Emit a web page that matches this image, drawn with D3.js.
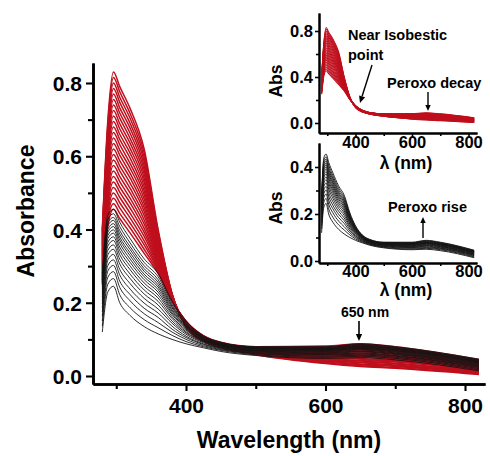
<!DOCTYPE html>
<html>
<head>
<meta charset="utf-8">
<script src="https://cdn.jsdelivr.net/npm/d3@7"></script>
<style>
  html, body { margin: 0; padding: 0; background: #fff; }
  svg { display: block; font-family: "Liberation Sans", Arial, Helvetica, sans-serif; font-weight: bold; }
</style>
</head>
<body>
<svg id="chart" width="490" height="456"></svg>
<script>
// Sampling wavelengths (nm) shared by every spectrum
const wavelengths = [280, 288, 296, 305, 320, 340, 360, 380, 400, 425, 450, 500, 600, 650, 700, 820];

// Peroxo decay series (red), absorbance at each wavelength
const decaySpectra = [
  [0.250,0.410,0.455,0.430,0.390,0.335,0.280,0.205,0.150,0.110,0.092,0.080,0.082,0.088,0.080,0.045],
  [0.256,0.422,0.470,0.444,0.404,0.346,0.285,0.206,0.149,0.109,0.091,0.079,0.080,0.086,0.078,0.043],
  [0.262,0.433,0.485,0.459,0.417,0.358,0.290,0.207,0.149,0.109,0.091,0.078,0.078,0.083,0.075,0.042],
  [0.268,0.445,0.500,0.473,0.431,0.369,0.294,0.207,0.148,0.108,0.090,0.077,0.076,0.081,0.073,0.040],
  [0.274,0.456,0.515,0.488,0.444,0.381,0.299,0.208,0.148,0.108,0.090,0.076,0.074,0.078,0.071,0.038],
  [0.280,0.468,0.530,0.502,0.458,0.392,0.304,0.209,0.147,0.107,0.089,0.076,0.072,0.076,0.068,0.037],
  [0.286,0.480,0.545,0.516,0.472,0.403,0.309,0.210,0.146,0.106,0.089,0.075,0.070,0.073,0.066,0.035],
  [0.292,0.491,0.560,0.531,0.485,0.415,0.314,0.211,0.146,0.106,0.088,0.074,0.069,0.071,0.063,0.034],
  [0.298,0.503,0.575,0.545,0.499,0.426,0.318,0.211,0.145,0.105,0.088,0.073,0.067,0.068,0.061,0.032],
  [0.304,0.514,0.590,0.560,0.512,0.438,0.323,0.212,0.145,0.105,0.087,0.072,0.065,0.066,0.059,0.030],
  [0.310,0.526,0.605,0.574,0.526,0.449,0.328,0.213,0.144,0.104,0.086,0.071,0.063,0.063,0.056,0.029],
  [0.316,0.538,0.620,0.588,0.540,0.460,0.333,0.214,0.143,0.103,0.086,0.070,0.061,0.061,0.054,0.027],
  [0.322,0.549,0.635,0.603,0.553,0.472,0.338,0.215,0.143,0.103,0.085,0.069,0.059,0.058,0.052,0.025],
  [0.328,0.561,0.650,0.617,0.567,0.483,0.342,0.215,0.142,0.102,0.085,0.069,0.057,0.056,0.049,0.024],
  [0.334,0.572,0.665,0.632,0.580,0.495,0.347,0.216,0.142,0.102,0.084,0.068,0.055,0.053,0.047,0.022],
  [0.340,0.584,0.680,0.646,0.594,0.506,0.352,0.217,0.141,0.101,0.084,0.067,0.053,0.051,0.045,0.021],
  [0.346,0.596,0.695,0.660,0.608,0.517,0.357,0.218,0.140,0.100,0.083,0.066,0.051,0.048,0.042,0.019],
  [0.352,0.607,0.710,0.675,0.621,0.529,0.362,0.219,0.140,0.100,0.082,0.065,0.049,0.046,0.040,0.017],
  [0.358,0.619,0.725,0.689,0.635,0.540,0.366,0.219,0.139,0.099,0.082,0.064,0.047,0.043,0.038,0.015],
  [0.364,0.630,0.740,0.704,0.648,0.552,0.371,0.220,0.139,0.099,0.081,0.063,0.045,0.041,0.035,0.014],
  [0.370,0.642,0.755,0.718,0.662,0.563,0.376,0.221,0.138,0.098,0.081,0.062,0.044,0.038,0.033,0.012],
  [0.376,0.654,0.770,0.732,0.676,0.574,0.381,0.222,0.137,0.097,0.080,0.062,0.042,0.036,0.030,0.011],
  [0.382,0.665,0.785,0.747,0.689,0.586,0.386,0.223,0.137,0.097,0.080,0.061,0.040,0.033,0.028,0.009],
  [0.388,0.677,0.800,0.761,0.703,0.597,0.390,0.223,0.136,0.096,0.079,0.060,0.038,0.031,0.026,0.007],
  [0.394,0.688,0.815,0.776,0.716,0.609,0.395,0.224,0.136,0.096,0.079,0.059,0.036,0.028,0.023,0.006],
  [0.400,0.700,0.830,0.790,0.730,0.620,0.400,0.225,0.135,0.095,0.078,0.058,0.034,0.026,0.021,0.004]
];

// Peroxo formation series (black), absorbance at each wavelength
const riseSpectra = [
  [0.120,0.230,0.245,0.200,0.165,0.135,0.115,0.100,0.088,0.077,0.067,0.056,0.048,0.050,0.044,0.014],
  [0.136,0.251,0.266,0.222,0.186,0.154,0.132,0.111,0.094,0.080,0.070,0.058,0.051,0.054,0.048,0.017],
  [0.150,0.270,0.285,0.242,0.205,0.170,0.146,0.120,0.100,0.083,0.072,0.061,0.054,0.057,0.051,0.020],
  [0.163,0.287,0.302,0.259,0.222,0.185,0.160,0.128,0.105,0.086,0.074,0.062,0.057,0.060,0.054,0.023],
  [0.175,0.302,0.317,0.276,0.237,0.199,0.172,0.136,0.109,0.088,0.076,0.064,0.059,0.063,0.056,0.025],
  [0.186,0.317,0.332,0.291,0.252,0.212,0.183,0.144,0.114,0.091,0.077,0.066,0.061,0.066,0.059,0.027],
  [0.197,0.331,0.346,0.306,0.266,0.224,0.194,0.150,0.118,0.093,0.079,0.068,0.063,0.068,0.061,0.029],
  [0.206,0.343,0.358,0.319,0.278,0.235,0.204,0.157,0.121,0.095,0.081,0.069,0.065,0.071,0.063,0.031],
  [0.215,0.355,0.370,0.331,0.290,0.245,0.213,0.162,0.125,0.097,0.082,0.070,0.067,0.073,0.065,0.033],
  [0.223,0.365,0.380,0.342,0.300,0.254,0.221,0.168,0.128,0.098,0.083,0.071,0.069,0.075,0.067,0.035],
  [0.230,0.375,0.390,0.352,0.310,0.263,0.229,0.172,0.131,0.100,0.084,0.073,0.070,0.076,0.069,0.036],
  [0.238,0.384,0.399,0.362,0.319,0.271,0.236,0.177,0.134,0.101,0.085,0.074,0.072,0.078,0.070,0.038],
  [0.244,0.393,0.408,0.371,0.328,0.278,0.243,0.181,0.136,0.103,0.086,0.075,0.073,0.079,0.072,0.039],
  [0.250,0.401,0.416,0.379,0.336,0.286,0.249,0.186,0.139,0.104,0.087,0.076,0.074,0.081,0.073,0.040],
  [0.257,0.410,0.425,0.388,0.345,0.293,0.256,0.190,0.141,0.105,0.088,0.077,0.075,0.082,0.075,0.041],
  [0.263,0.418,0.433,0.397,0.353,0.301,0.263,0.194,0.143,0.107,0.089,0.077,0.077,0.084,0.076,0.043],
  [0.271,0.428,0.443,0.408,0.363,0.310,0.271,0.199,0.147,0.108,0.091,0.079,0.078,0.086,0.078,0.044],
  [0.280,0.440,0.455,0.420,0.375,0.320,0.280,0.205,0.150,0.110,0.092,0.080,0.080,0.088,0.080,0.046]
];

// Tick values
const mainXMajor = [400, 600, 800];
const mainXMinor = [300, 500, 700];
const mainYMajor = [0.0, 0.2, 0.4, 0.6, 0.8];
const mainYMinor = [0.1, 0.3, 0.5, 0.7];
const insetXMajor = [400, 600, 800];
const insetXMinor = [300, 500, 700];
const topYMajor = [0.0, 0.4, 0.8];
const topYMinor = [0.2, 0.6];
const botYMajor = [0.0, 0.2, 0.4];
const botYMinor = [0.1, 0.3];

const RED = "#bf0f1d";
const BLACK = "#141414";

const svg = d3.select("#chart");

// Build a linear scale from two calibration points, then stretch its domain to the axis ends
function calibrated(v0, p0, v1, p1, start, end) {
  const s = d3.scaleLinear([v0, v1], [p0, p1]);
  return s.domain([s.invert(start), s.invert(end)]).range([start, end]);
}

function drawSpectra(g, rows, x, y, color, width) {
  const line = d3.line()
    .x((d, i) => x(wavelengths[i]))
    .y(d => y(d))
    .curve(d3.curveMonotoneX);
  g.append("g")
    .selectAll("path")
    .data(rows)
    .join("path")
    .attr("d", line)
    .attr("fill", "none")
    .attr("stroke", color)
    .attr("stroke-width", width)
    .attr("stroke-linejoin", "round");
}

function styleAxis(g, lineW, fontSize) {
  g.attr("font-family", null).attr("font-size", fontSize).attr("font-weight", "bold");
  g.select(".domain").attr("stroke", "#000").attr("stroke-width", lineW);
  g.selectAll(".tick line").attr("stroke", "#000").attr("stroke-width", lineW * 0.8);
  g.selectAll(".tick text").attr("fill", "#000");
}

function drawAxes(opt) {
  const { x, y, xAxisY, yAxisX, xMajor, xMinor, yMajor, yMinor, lineW, fontSize,
          majorLen, minorLen, xLabelY, yLabelX, yFormat } = opt;
  // x axis
  const gx = svg.append("g").attr("transform", `translate(0,${xAxisY})`);
  gx.call(d3.axisBottom(x).tickValues(xMajor).tickSize(majorLen).tickSizeOuter(0).tickFormat(d3.format("d")));
  styleAxis(gx, lineW, fontSize);
  gx.selectAll(".tick text").attr("y", xLabelY).attr("dy", 0);
  const gxm = svg.append("g").attr("transform", `translate(0,${xAxisY})`);
  gxm.call(d3.axisBottom(x).tickValues(xMinor).tickSize(minorLen).tickSizeOuter(0).tickFormat(""));
  styleAxis(gxm, lineW, fontSize);
  // y axis
  const gy = svg.append("g").attr("transform", `translate(${yAxisX},0)`);
  gy.call(d3.axisLeft(y).tickValues(yMajor).tickSize(majorLen).tickSizeOuter(0).tickFormat(yFormat));
  styleAxis(gy, lineW, fontSize);
  gy.selectAll(".tick text").attr("x", -yLabelX).attr("dy", "0.36em");
  const gym = svg.append("g").attr("transform", `translate(${yAxisX},0)`);
  gym.call(d3.axisLeft(y).tickValues(yMinor).tickSize(minorLen).tickSizeOuter(0).tickFormat(""));
  styleAxis(gym, lineW, fontSize);
}

function arrow(x1, y1, x2, y2, head, lw) {
  const ang = Math.atan2(y2 - y1, x2 - x1);
  const bx = x2 - head * Math.cos(ang), by = y2 - head * Math.sin(ang);
  svg.append("line")
    .attr("x1", x1).attr("y1", y1).attr("x2", bx).attr("y2", by)
    .attr("stroke", "#000").attr("stroke-width", lw);
  const w = head * 0.45;
  const px = -Math.sin(ang) * w, py = Math.cos(ang) * w;
  svg.append("path")
    .attr("d", `M${x2},${y2}L${bx + px},${by + py}L${bx - px},${by - py}Z`)
    .attr("fill", "#000");
}

function label(text, x, y, size, anchor, rotate) {
  const t = svg.append("text")
    .attr("font-size", size)
    .attr("text-anchor", anchor || "start")
    .attr("fill", "#000")
    .text(text);
  if (rotate) t.attr("transform", `translate(${x},${y}) rotate(${rotate})`);
  else t.attr("x", x).attr("y", y);
  return t;
}

// ---------- main panel ----------
const xMain = calibrated(400, 186, 800, 465, 93, 485);
const yMain = calibrated(0, 376, 0.8, 83, 384, 63);

const mainG = svg.append("g");
drawSpectra(mainG, decaySpectra, xMain, yMain, RED, 1.5);
drawSpectra(mainG, riseSpectra, xMain, yMain, BLACK, 0.9);

drawAxes({
  x: xMain, y: yMain, xAxisY: 384, yAxisX: 93,
  xMajor: mainXMajor, xMinor: mainXMinor, yMajor: mainYMajor, yMinor: mainYMinor,
  lineW: 2.6, fontSize: 21, majorLen: 7, minorLen: 5, xLabelY: 29, yLabelX: 11,
  yFormat: d3.format(".1f")
});

label("Wavelength (nm)", 289, 448, 23, "middle");
label("Absorbance", 34, 211, 23, "middle", -90);
label("650 nm", 365, 317, 14, "middle");
arrow(359, 321, 359, 341, 7, 1.6);

// ---------- upper inset: decay ----------
const xInset = calibrated(400, 355.5, 800, 468.5, 319, 477);
const yTop = calibrated(0, 123, 0.8, 31, 133, 13);
const topG = svg.append("g");
drawSpectra(topG, decaySpectra, xInset, yTop, RED, 1.1);
drawAxes({
  x: xInset, y: yTop, xAxisY: 133, yAxisX: 319,
  xMajor: insetXMajor, xMinor: insetXMinor, yMajor: topYMajor, yMinor: topYMinor,
  lineW: 2, fontSize: 16.5, majorLen: 4, minorLen: 3, xLabelY: 15, yLabelX: 6,
  yFormat: d3.format(".1f")
});
label("Abs", 282, 81, 17.5, "middle", -90);
label("λ (nm)", 406, 169, 17.5, "middle");
label("Near Isobestic", 348, 40, 14.5, "start");
label("point", 348, 60, 14.5, "start");
arrow(372, 65, 360, 103, 7, 1.4);
label("Peroxo decay", 387, 88, 14.5, "start");
arrow(428, 92, 428, 111, 6, 1.4);

// ---------- lower inset: formation ----------
const yBot = calibrated(0, 261, 0.4, 167, 263, 143);
const botG = svg.append("g");
drawSpectra(botG, riseSpectra, xInset, yBot, BLACK, 0.9);
drawAxes({
  x: xInset, y: yBot, xAxisY: 263, yAxisX: 319,
  xMajor: insetXMajor, xMinor: insetXMinor, yMajor: botYMajor, yMinor: botYMinor,
  lineW: 2, fontSize: 16.5, majorLen: 4, minorLen: 3, xLabelY: 14, yLabelX: 6,
  yFormat: d3.format(".1f")
});
label("Abs", 282, 208, 17.5, "middle", -90);
label("λ (nm)", 406, 296, 17.5, "middle");
label("Peroxo rise", 388, 212, 14.5, "start");
arrow(423, 238, 423, 217, 6, 1.4);
</script>
</body>
</html>
